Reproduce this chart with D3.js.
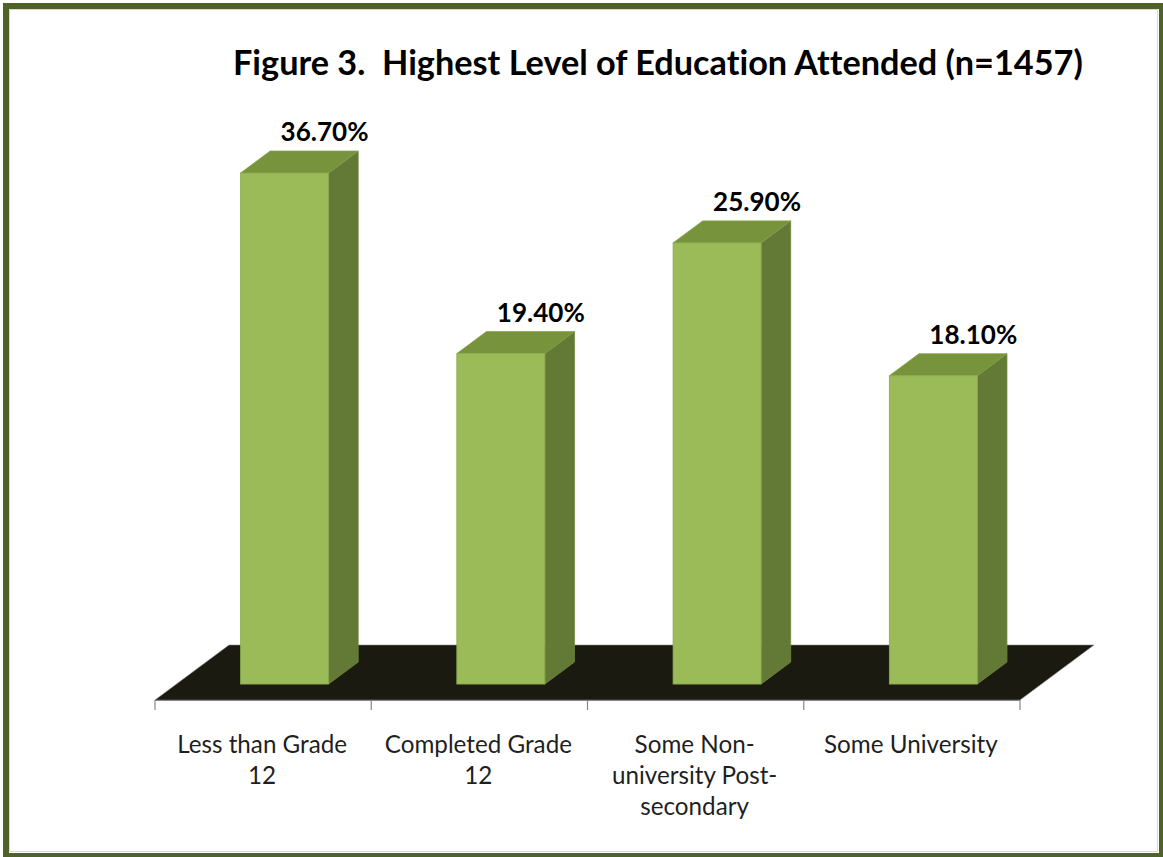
<!DOCTYPE html>
<html>
<head>
<meta charset="utf-8">
<script src="https://cdn.jsdelivr.net/npm/d3@7"></script>
<style>
  html, body { margin: 0; padding: 0; background: #ffffff; }
  svg { display: block; }
  text { font-variant-ligatures: none; font-feature-settings: "liga" 0, "clig" 0; }
</style>
</head>
<body>
<svg id="chart" width="1163" height="857"></svg>
<script>
// Highest level of education attended (share of respondents)
const categories = [
  "Less than Grade 12",
  "Completed Grade 12",
  "Some Non-university Post-secondary",
  "Some University"
];
const values = [0.367, 0.194, 0.259, 0.181];
const valueLabels = ["36.70%", "19.40%", "25.90%", "18.10%"];
const categoryLines = [
  ["Less than Grade", "12"],
  ["Completed Grade", "12"],
  ["Some Non-", "university Post-", "secondary"],
  ["Some University"]
];
const titleText = "Figure 3.  Highest Level of Education Attended (n=1457)";
// value axis is capped at 30%; taller columns are cut off at the top of the plot
const valueAxisMax = 0.30;

const W = 1163, H = 857;
const svg = d3.select("#chart");
const FONT = "Lato, 'Open Sans', 'DejaVu Sans', sans-serif";

// frame
svg.append("rect").attr("x", 6).attr("y", 6).attr("width", 1156).attr("height", 850)
  .attr("fill", "#ffffff").attr("stroke", "#4f6228").attr("stroke-width", 6);
svg.append("rect").attr("x", 9.5).attr("y", 9.5).attr("width", 1148).attr("height", 842)
  .attr("fill", "none").attr("stroke", "#d6dbcc").attr("stroke-width", 1);

// floor geometry (front edge of the floor and its depth vector)
const floorLeft = 155, floorRight = 1020, floorY = 700;
const depth = { dx: 74, dy: -55 };
const barDepth0 = 0.29, barDepth1 = 0.69;

const x = d3.scaleBand()
  .domain(categories)
  .range([floorLeft, floorRight])
  .paddingInner(0.593)
  .paddingOuter(0.2965);

const baseY = floorY + depth.dy * barDepth0;          // front bottom of the columns
const y = d3.scaleLinear()
  .domain([0, valueAxisMax])
  .range([baseY, baseY - 511])
  .clamp(true);

// floor
const floorPts = [
  [floorLeft, floorY],
  [floorRight, floorY],
  [floorRight + depth.dx, floorY + depth.dy],
  [floorLeft + depth.dx, floorY + depth.dy]
];
svg.append("polygon")
  .attr("points", floorPts.map(p => p.join(",")).join(" "))
  .attr("fill", "#1b1a10")
  .attr("stroke", "#8a8a8a").attr("stroke-width", 0.8).attr("stroke-opacity", 0.7);

// category axis line and tick marks at category boundaries
const axisG = svg.append("g").attr("stroke", "#868686").attr("stroke-width", 1.2);
axisG.append("line")
  .attr("x1", floorLeft).attr("x2", floorRight)
  .attr("y1", floorY + 0.5).attr("y2", floorY + 0.5);
d3.range(categories.length + 1).forEach(i => {
  const tx = x.range()[0] + i * x.step();
  axisG.append("line")
    .attr("x1", tx).attr("x2", tx)
    .attr("y1", floorY).attr("y2", floorY + 10);
});

// columns
const ddx0 = depth.dx * barDepth0;
const ddx = depth.dx * (barDepth1 - barDepth0);
const ddy = depth.dy * (barDepth1 - barDepth0);
const bw = x.bandwidth();

const bars = svg.append("g").selectAll("g")
  .data(categories.map((c, i) => ({ c, v: values[i], label: valueLabels[i] })))
  .join("g");

bars.each(function(d) {
  const g = d3.select(this);
  const x0 = x(d.c) + ddx0, x1 = x0 + bw;
  const yt = y(d.v), yb = y(0);
  // right side
  g.append("polygon")
    .attr("points", [[x1, yb], [x1 + ddx, yb + ddy], [x1 + ddx, yt + ddy], [x1, yt]].map(p => p.join(",")).join(" "))
    .attr("fill", "#637a37").attr("stroke", "#6f8a3e").attr("stroke-width", 0.8);
  // top
  g.append("polygon")
    .attr("points", [[x0, yt], [x1, yt], [x1 + ddx, yt + ddy], [x0 + ddx, yt + ddy]].map(p => p.join(",")).join(" "))
    .attr("fill", "#77933c").attr("stroke", "#82a045").attr("stroke-width", 0.8);
  // front
  g.append("rect")
    .attr("x", x0).attr("y", yt).attr("width", bw).attr("height", yb - yt)
    .attr("fill", "#9bbb59").attr("stroke", "#8aab4b").attr("stroke-width", 0.8);
});

// data labels
const labels = bars.append("text")
  .attr("x", d => x(d.c) + ddx0 + bw / 2 + 40)
  .attr("y", d => y(d.v) + ddy - 10)
  .attr("text-anchor", "middle")
  .attr("font-family", FONT)
  .attr("font-weight", "bold")
  .attr("font-size", 28)
  .attr("fill", "#000000")
  .text(d => d.label);
{
  const w = labels.node().getComputedTextLength();
  labels.attr("font-size", 28 * 88 / w);
}

// category labels
const catG = svg.append("g");
categories.forEach((c, i) => {
  const t = catG.append("text")
    .attr("x", x(c) + bw / 2 - 1)
    .attr("y", 753)
    .attr("text-anchor", "middle")
    .attr("font-family", FONT)
    .attr("font-size", 24)
    .attr("fill", "#1f1f1f");
  categoryLines[i].forEach((line, j) => {
    t.append("tspan").attr("x", x(c) + bw / 2 - 1).attr("dy", j === 0 ? 0 : 31).text(line);
  });
});
{
  const probe = catG.append("text").attr("font-family", FONT).attr("font-size", 24).text("Less than Grade");
  const w = probe.node().getComputedTextLength();
  probe.remove();
  catG.selectAll("text").attr("font-size", 24 * 170 / w);
}

// title
const title = svg.append("text")
  .attr("x", 233).attr("y", 75)
  .attr("font-family", FONT)
  .attr("font-weight", "bold")
  .attr("font-size", 34)
  .attr("fill", "#000000")
  .attr("xml:space", "preserve")
  .style("white-space", "pre")
  .text(titleText);
{
  const w = title.node().getComputedTextLength();
  title.attr("font-size", 34 * 850 / w);
}
</script>
</body>
</html>
